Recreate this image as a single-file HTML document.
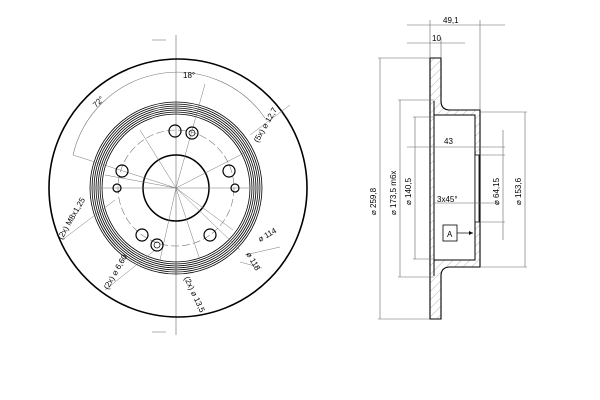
<!DOCTYPE html>
<html><head><style>body{margin:0;background:#fff}svg{display:block}text{font-family:"Liberation Sans",sans-serif;font-size:8px;fill:#000}</style></head><body>
<svg width="600" height="400" viewBox="0 0 600 400" xmlns="http://www.w3.org/2000/svg">
<defs><pattern id="h" width="6" height="6" patternUnits="userSpaceOnUse" patternTransform="rotate(45)"><line x1="0" y1="0" x2="0" y2="6" stroke="#888" stroke-width="0.6"/></pattern></defs>
<g fill="none" stroke="#000">
<!-- left view -->
<line x1="176" y1="35" x2="176" y2="335" stroke="#666" stroke-width="0.6"/>
<path d="M152 40h14M152 332h14" stroke="#666" stroke-width="0.6"/>
<circle cx="178" cy="188" r="129" stroke-width="1.6"/>
<g stroke-width="0.8"><circle cx="176" cy="188" r="86"/><circle cx="176" cy="188" r="84"/><circle cx="176" cy="188" r="82"/><circle cx="176" cy="188" r="80"/><circle cx="176" cy="188" r="78"/><circle cx="176" cy="188" r="76"/><circle cx="176" cy="188" r="74"/></g>
<circle cx="176" cy="188" r="58" stroke="#777" stroke-width="0.6" stroke-dasharray="8 3"/>
<circle cx="176" cy="188" r="33" stroke-width="1.5"/>
<path d="M73 155 A107 107 0 0 1 265 118" stroke="#777" stroke-width="0.6"/>
<g stroke="#777" stroke-width="0.5"><line x1="176" y1="188" x2="205" y2="84"/><line x1="176" y1="188" x2="73" y2="155"/><line x1="176" y1="188" x2="250" y2="150"/><line x1="176" y1="188" x2="105" y2="175"/><line x1="176" y1="188" x2="160" y2="260"/><line x1="176" y1="188" x2="233" y2="230"/><line x1="176" y1="188" x2="240" y2="250"/><line x1="100" y1="188" x2="250" y2="188"/><line x1="176" y1="188" x2="140" y2="130"/><line x1="176" y1="188" x2="200" y2="260"/><line x1="250" y1="135" x2="290" y2="105"/><line x1="62" y1="240" x2="115" y2="200"/><line x1="105" y1="290" x2="155" y2="250"/><line x1="245" y1="255" x2="280" y2="247"/><line x1="240" y1="262" x2="262" y2="268"/></g>
<g stroke-width="1.2"><circle cx="175" cy="131" r="6"/><circle cx="192" cy="133" r="6"/><circle cx="122" cy="171" r="6"/><circle cx="229" cy="171" r="6"/><circle cx="117" cy="188" r="4"/><circle cx="235" cy="188" r="4"/><circle cx="142" cy="235" r="6"/><circle cx="210" cy="235" r="6"/><circle cx="157" cy="245" r="6"/></g>
<circle cx="192" cy="133" r="3" stroke-width="0.7"/><circle cx="157" cy="245" r="3" stroke-width="0.7"/>
</g>
<text x="183" y="78">18°</text>
<text x="96" y="108" transform="rotate(-45 96 108)">72°</text>
<text x="258" y="143" transform="rotate(-60 258 143)">(5x) ⌀ 12,7</text>
<text x="62" y="240" transform="rotate(-60 62 240)">(2x) M8x1,25</text>
<text x="108" y="290" transform="rotate(-60 108 290)">(2x) ⌀ 6,60</text>
<text x="184" y="278" transform="rotate(65 184 278)">(2x) ⌀ 13,5</text>
<text x="260" y="242" transform="rotate(-30 260 242)">⌀ 114</text>
<text x="246" y="254" transform="rotate(60 246 254)">⌀ 118</text>
<!-- right view -->
<g fill="none" stroke="#000">
<path d="M430 58h11v43q0 9 9 9h30v157h-30q-9 0-9 9v43h-11z" fill="url(#h)" stroke-width="1.1"/>
<path d="M434 115h41v145h-41z" fill="#fff" stroke-width="1"/>
<rect x="475" y="155" width="4" height="67" fill="#fff" stroke-width="0.8"/>
<line x1="434" y1="101" x2="434" y2="276" stroke-width="1"/>
<g stroke="#666" stroke-width="0.6">
<line x1="407" y1="25" x2="505" y2="25"/><line x1="407" y1="43" x2="465" y2="43"/>
<line x1="430" y1="20" x2="430" y2="58"/><line x1="480" y1="20" x2="480" y2="110"/><line x1="441" y1="38" x2="441" y2="58"/>
<line x1="380" y1="58" x2="380" y2="319"/><line x1="378" y1="58" x2="430" y2="58"/><line x1="378" y1="319" x2="430" y2="319"/>
<line x1="400" y1="100" x2="400" y2="277"/><line x1="398" y1="100" x2="434" y2="100"/><line x1="398" y1="277" x2="434" y2="277"/>
<line x1="415" y1="117" x2="415" y2="259"/><line x1="413" y1="117" x2="434" y2="117"/><line x1="413" y1="259" x2="434" y2="259"/>
<line x1="407" y1="147" x2="505" y2="147"/><line x1="434" y1="203" x2="500" y2="203"/>
<line x1="503" y1="130" x2="503" y2="240"/><line x1="480" y1="155" x2="505" y2="155"/><line x1="480" y1="222" x2="505" y2="222"/>
<line x1="525" y1="112" x2="525" y2="267"/><line x1="480" y1="112" x2="527" y2="112"/><line x1="480" y1="267" x2="527" y2="267"/>
</g>
<rect x="443" y="225" width="14" height="16" stroke-width="0.8"/>
<line x1="457" y1="233" x2="473" y2="233" stroke-width="0.7"/>
</g>
<path d="M473 233l-4 -2v4z"/>
<text x="443" y="23">49,1</text><text x="432" y="41">10</text><text x="444" y="144">43</text><text x="437" y="202">3x45°</text><text x="447" y="237">A</text>
<text x="376" y="215" transform="rotate(-90 376 215)">⌀ 259,8</text>
<text x="396" y="215" transform="rotate(-90 396 215)">⌀ 173,5 m6x</text>
<text x="411" y="205" transform="rotate(-90 411 205)">⌀ 140,5</text>
<text x="499" y="205" transform="rotate(-90 499 205)">⌀ 64,15</text>
<text x="521" y="205" transform="rotate(-90 521 205)">⌀ 153,6</text>
</svg>
</body></html>
